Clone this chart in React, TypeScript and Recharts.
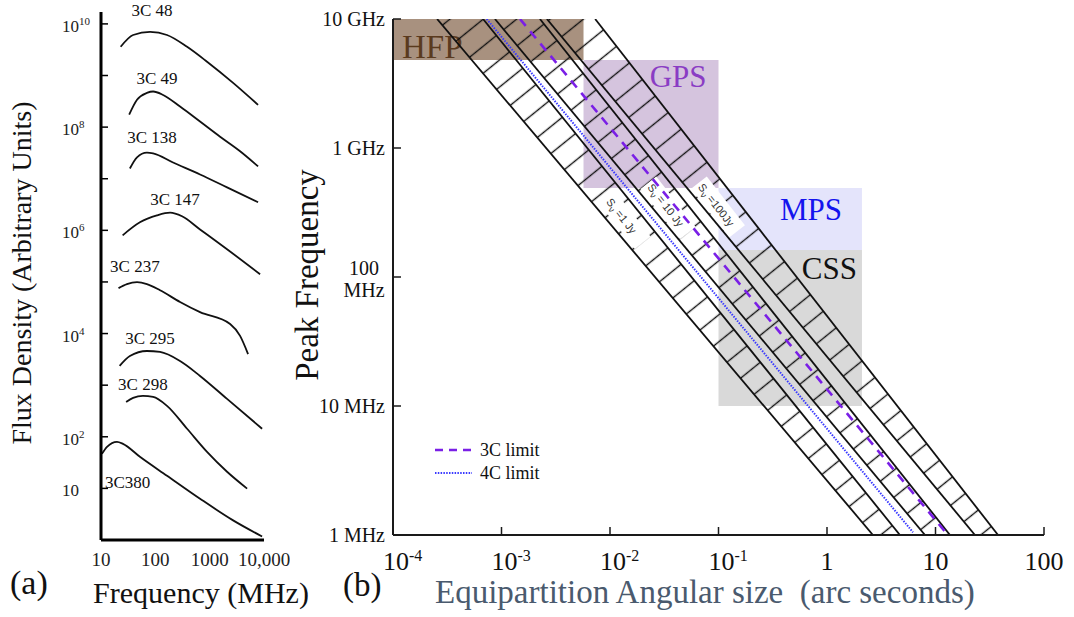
import React from 'react';
import { ComposedChart, Line, Area, XAxis, YAxis, ReferenceArea, ReferenceDot } from 'recharts';

const SERIF = "'Liberation Serif', 'Times New Roman', serif";
const SANS = "'Liberation Sans', Arial, sans-serif";

// ---------- (a) spectra: frequency in MHz, flux density in arbitrary units ----------
const sourceNames = ['3C 48', '3C 49', '3C 138', '3C 147', '3C 237', '3C 295', '3C 298', '3C380'];

const freq3C48 = [23, 39, 80, 164, 384, 895, 2700, 7780];
const flux3C48 = [3.6e9, 6.1e9, 7.0e9, 6.1e9, 3.6e9, 1.85e9, 7.2e8, 2.7e8];
const freq3C49 = [33, 46, 70, 91, 139, 285, 665, 1556, 3631, 7780];
const flux3C49 = [1.75e8, 3.4e8, 4.6e8, 4.9e8, 4.2e8, 2.5e8, 1.28e8, 6.5e7, 3.4e7, 1.73e7];
const freq3C138 = [34, 46, 70, 91, 212, 665, 2090, 7780];
const flux3C138 = [1.58e7, 2.6e7, 3.2e7, 3.1e7, 2.06e7, 1.21e7, 6.8e6, 3.5e6];
const freq3C147 = [25, 52, 107, 187, 310, 665, 2090, 8470];
const flux3C147 = [8.0e5, 1.43e6, 1.95e6, 2.2e6, 1.87e6, 1.04e6, 4.3e5, 1.41e5];
const freq3C237 = [21, 30, 46, 70, 122, 285, 665, 2380, 3630, 5090];
const flux3C237 = [7.6e4, 9.1e4, 9.9e4, 9.1e4, 6.9e4, 4.1e4, 2.6e4, 1.53e4, 9.0e3, 4.0e3];
const freq3C295 = [22, 34, 70, 122, 285, 665, 2090, 9230];
const flux3C295 = [2360, 3670, 4590, 4400, 2940, 1510, 542, 143];
const freq3C298 = [29, 39, 59, 91, 164, 384, 895, 2090, 4890];
const flux3C298 = [474, 568, 620, 593, 397, 143, 51, 21, 9.9];
const freq3C380 = [10.4, 12.9, 19.7, 25.4, 52, 164, 665, 2700, 9230];
const flux3C380 = [46.9, 64, 80, 73, 41, 17.6, 6.3, 2.4, 1.17];

const sourceFreqs = [freq3C48, freq3C49, freq3C138, freq3C147, freq3C237, freq3C295, freq3C298, freq3C380];
const sourceFluxes = [flux3C48, flux3C49, flux3C138, flux3C147, flux3C237, flux3C295, flux3C298, flux3C380];

// where each source name sits
const labelFreq = [87, 107, 87, 231, 42, 80, 59, 31];
const labelFlux = [1.9e10, 9.1e8, 6.5e7, 4.0e6, 2.0e5, 8.2e3, 1.06e3, 13.5];

const fluxTicks = [10, 1e2, 1e3, 1e4, 1e5, 1e6, 1e7, 1e8, 1e9, 1e10];
const freqTicks = [10, 100, 1000, 10000];
const freqTickLabels = ['10', '100', '1000', '10,000'];

// ---------- (b) peak frequency vs equipartition angular size ----------
const nuTop = 1e10;
const nuBottom = 1e6;
// band edges (1 Jy, 10 Jy, 100 Jy bands, two edges each): angular size at 10 GHz and at 1 MHz
const edgeThetaTop = [2.55e-4, 6.76e-4, 8.7e-4, 2.26e-3, 2.62e-3, 7.3e-3];
const edgeThetaBottom = [2.65, 4.7, 8.0, 13.6, 23.1, 37.7];
const bandLabels = ['=1 Jy', '= 10 Jy', '=100Jy'];
const bandLabelTheta = [0.0137, 0.0343, 0.0989];
const bandLabelNu = [2.77e8, 3.43e8, 3.49e8];

const limit3CTheta = [1.48e-3, 13.0];
const limit3CNu = [1e10, 1e6];
const limit4CTheta = [7.3e-4, 6.2];
const limit4CNu = [1e10, 1.05e6];

const regionNames = ['HFP', 'GPS', 'MPS', 'CSS'];
const regionThetaMin = [1e-4, 0.0057, 0.1, 0.1];
const regionThetaMax = [0.0057, 0.1, 2.1, 2.1];
const regionNuMin = [4.8e9, 4.9e8, 1.62e8, 1e7];
const regionNuMax = [1e10, 4.8e9, 4.9e8, 1.62e8];
const regionFill = ['#a8917f', '#d5c4de', '#e4e4fb', '#d9d9d9'];
const regionTextColor = ['#5a3a1e', '#8a3cc4', '#1414ee', '#111111'];

const thetaTicks = [1e-4, 1e-3, 1e-2, 1e-1, 1, 10, 100];
const thetaTickBase = ['10', '10', '10', '10', '1', '10', '100'];
const thetaTickExp = ['-4', '-3', '-2', '-1', '', '', ''];
const nuTicks = [1e6, 1e7, 1e8, 1e9, 1e10];
const nuTickLabels = ['1 MHz', '10 MHz', '100 MHz', '1 GHz', '10 GHz'];

const frame = { stroke: '#1a1a1a', strokeWidth: 2 };
const tickStyle = { stroke: '#1a1a1a', strokeWidth: 1.5 };

const lg = (v: number) => Math.log10(v);

// frequency on a straight edge (in log-log) through (t0, nuTop) and (t1, nuBottom)
function nuOnEdge(t0: number, t1: number, theta: number) {
  const f = (lg(theta) - lg(t0)) / (lg(t1) - lg(t0));
  return Math.pow(10, lg(nuTop) - f * (lg(nuTop) - lg(nuBottom)));
}

function bandPolygon(k: number) {
  const a0 = edgeThetaTop[2 * k];
  const a1 = edgeThetaBottom[2 * k];
  const b0 = edgeThetaTop[2 * k + 1];
  const b1 = edgeThetaBottom[2 * k + 1];
  return [
    { theta: a0, band: [nuTop, nuTop] },
    { theta: b0, band: [nuOnEdge(a0, a1, b0), nuTop] },
    { theta: a1, band: [nuBottom, nuOnEdge(b0, b1, a1)] },
    { theta: b1, band: [nuBottom, nuBottom] },
  ];
}

function FluxTick(props: any) {
  const { x, y, payload } = props;
  const e = Math.round(lg(payload.value));
  if (e !== 1 && e % 2 === 1) return <g />;
  return (
    <text x={x} y={y + 8} textAnchor="start" fontFamily={SERIF} fontSize={17} fill="#222">
      10
      {e > 1 ? (
        <tspan dy={-7} fontSize={11}>
          {e}
        </tspan>
      ) : null}
    </text>
  );
}

function FreqTick(props: any) {
  const { x, y, payload } = props;
  const i = freqTicks.indexOf(payload.value);
  return (
    <text x={x} y={y + 18} textAnchor="middle" fontFamily={SERIF} fontSize={19} fill="#222">
      {freqTickLabels[i]}
    </text>
  );
}

function ThetaTick(props: any) {
  const { x, y, payload } = props;
  const i = thetaTicks.indexOf(payload.value);
  if (thetaTickExp[i]) {
    return (
      <text x={x - 10} y={y + 33} textAnchor="start" fontFamily={SERIF} fontSize={26} fill="#111">
        {thetaTickBase[i]}
        <tspan dy={-9} fontSize={16}>
          {thetaTickExp[i]}
        </tspan>
      </text>
    );
  }
  return (
    <text x={x} y={y + 33} textAnchor="middle" fontFamily={SERIF} fontSize={26} fill="#111">
      {thetaTickBase[i]}
    </text>
  );
}

function NuTick(props: any) {
  const { x, y, payload } = props;
  const i = nuTicks.indexOf(payload.value);
  const label = nuTickLabels[i];
  if (label === '100 MHz') {
    return (
      <text fontFamily={SERIF} fontSize={20} fill="#111" textAnchor="middle">
        <tspan x={x - 21} y={y - 2}>100</tspan>
        <tspan x={x - 21} y={y + 20}>MHz</tspan>
      </text>
    );
  }
  return (
    <text x={x} y={y + 7} textAnchor="end" fontFamily={SERIF} fontSize={20} fill="#111">
      {label}
    </text>
  );
}

const regionLabel = (i: number) => (p: any) => {
  const vb = p.viewBox;
  if (i === 0) {
    return (
      <text x={vb.x + 9} y={vb.y + 39} fontFamily={SERIF} fontSize={33} fill={regionTextColor[i]}>
        {regionNames[i]}
      </text>
    );
  }
  const insetX = [0, 12, 20, 5][i];
  const insetY = [0, 27, 32, 29][i];
  return (
    <text x={vb.x + vb.width - insetX} y={vb.y + insetY} textAnchor="end" fontFamily={SERIF} fontSize={31} fill={regionTextColor[i]}>
      {regionNames[i]}
    </text>
  );
};

const bandLabelShape = (k: number) => (p: any) => {
  const w = [58, 64, 62][k];
  return (
    <g transform={`translate(${p.cx},${p.cy}) rotate(52)`}>
      <rect x={-w / 2} y={-10} width={w} height={20} fill="#ffffff" />
      <text x={-w / 2 + 3} y={4} fontFamily={SANS} fontSize={11} fill="#333">
        S
        <tspan dy={3} fontSize={9}>
          ν
        </tspan>
        <tspan dy={-3}>{' ' + bandLabels[k]}</tspan>
      </text>
    </g>
  );
};

function SpectraPanel() {
  return (
    <ComposedChart width={290} height={617} margin={{ top: 12, right: 26, bottom: 47, left: 41 }}>
      <XAxis
        type="number"
        dataKey="f"
        scale="log"
        domain={[10, 10000]}
        allowDataOverflow
        ticks={freqTicks}
        interval={0}
        height={30}
        axisLine={{ stroke: '#000', strokeWidth: 3 }}
        tickLine={false}
        tick={(p: any) => <FreqTick {...p} />}
      />
      <YAxis
        type="number"
        dataKey="s"
        scale="log"
        domain={[1, 1.7e10]}
        allowDataOverflow
        ticks={fluxTicks}
        interval={0}
        width={60}
        axisLine={{ stroke: '#000', strokeWidth: 3 }}
        tickLine={{ stroke: '#000', strokeWidth: 1.5 }}
        tickSize={-7}
        tickMargin={46}
        tick={(p: any) => <FluxTick {...p} />}
      />
      {sourceNames.map((name, i) => (
        <Line
          key={name}
          data={sourceFreqs[i].map((f, j) => ({ f, s: sourceFluxes[i][j] }))}
          dataKey="s"
          type="monotone"
          stroke="#111"
          strokeWidth={1.8}
          dot={false}
          activeDot={false}
          isAnimationActive={false}
        />
      ))}
      {sourceNames.map((name, i) => (
        <ReferenceDot
          key={'lab' + name}
          x={labelFreq[i]}
          y={labelFlux[i]}
          r={0}
          ifOverflow="visible"
          stroke="none"
          fill="none"
          label={{ value: name, position: 'center', fill: '#111', fontSize: 17, fontFamily: SERIF }}
        />
      ))}
    </ComposedChart>
  );
}

function PeakPanel() {
  const edges = edgeThetaTop.map((t, i) => [
    { theta: t, nu: nuTop },
    { theta: edgeThetaBottom[i], nu: nuBottom },
  ]);
  return (
    <ComposedChart width={784} height={617} margin={{ top: 19, right: 30, bottom: 42, left: 8 }}>
      <defs>
        <pattern id="hatch" width={21} height={21} patternUnits="userSpaceOnUse" patternTransform="rotate(51)">
          <line x1={10.5} y1={0} x2={10.5} y2={21} stroke="#111" strokeWidth={1.4} />
        </pattern>
      </defs>
      <XAxis
        type="number"
        dataKey="theta"
        scale="log"
        domain={[1e-4, 100]}
        allowDataOverflow
        ticks={thetaTicks}
        interval={0}
        height={40}
        axisLine={frame}
        tickLine={tickStyle}
        tickSize={-8}
        tickMargin={10}
        tick={(p: any) => <ThetaTick {...p} />}
      />
      <XAxis
        xAxisId="top"
        orientation="top"
        type="number"
        dataKey="theta"
        scale="log"
        domain={[1e-4, 100]}
        allowDataOverflow
        ticks={thetaTicks}
        interval={0}
        height={0}
        axisLine={frame}
        tickLine={tickStyle}
        tickSize={-9}
        tick={false}
      />
      <YAxis
        type="number"
        scale="log"
        domain={[1e6, 1e10]}
        allowDataOverflow
        ticks={nuTicks}
        interval={0}
        width={95}
        axisLine={frame}
        tickLine={tickStyle}
        tickSize={-8}
        tickMargin={16}
        tick={(p: any) => <NuTick {...p} />}
      />
      <YAxis
        yAxisId="right"
        orientation="right"
        type="number"
        scale="log"
        domain={[1e6, 1e10]}
        allowDataOverflow
        ticks={nuTicks}
        interval={0}
        width={0}
        axisLine={frame}
        tickLine={tickStyle}
        tickSize={-9}
        tick={false}
      />
      {regionNames.map((name, i) => (
        <ReferenceArea
          key={name}
          x1={regionThetaMin[i]}
          x2={regionThetaMax[i]}
          y1={regionNuMin[i]}
          y2={regionNuMax[i]}
          fill={regionFill[i]}
          fillOpacity={1}
          stroke="none"
          ifOverflow="visible"
          zIndex={50}
          label={regionLabel(i)}
        />
      ))}
      {[0, 1, 2].map((k) => (
        <Area
          key={'band' + k}
          data={bandPolygon(k)}
          dataKey="band"
          type="linear"
          stroke="none"
          fill="url(#hatch)"
          fillOpacity={1}
          dot={false}
          activeDot={false}
          isAnimationActive={false}
        />
      ))}
      {bandLabels.map((b, k) => (
        <ReferenceDot
          key={'bl' + k}
          x={bandLabelTheta[k]}
          y={bandLabelNu[k]}
          r={0}
          ifOverflow="visible"
          zIndex={300}
          shape={bandLabelShape(k)}
        />
      ))}
      {edges.map((d, i) => (
        <Line
          key={'edge' + i}
          data={d}
          dataKey="nu"
          type="linear"
          stroke="#111"
          strokeWidth={1.8}
          dot={false}
          activeDot={false}
          isAnimationActive={false}
        />
      ))}
      <Line
        data={limit4CTheta.map((t, j) => ({ theta: t, nu: limit4CNu[j] }))}
        dataKey="nu"
        type="linear"
        stroke="#3a3aff"
        strokeWidth={2}
        strokeDasharray="1.5 1.3"
        dot={false}
        activeDot={false}
        isAnimationActive={false}
      />
      <Line
        data={limit3CTheta.map((t, j) => ({ theta: t, nu: limit3CNu[j] }))}
        dataKey="nu"
        type="linear"
        stroke="#7a1fe6"
        strokeWidth={2.6}
        strokeDasharray="9 7"
        dot={false}
        activeDot={false}
        isAnimationActive={false}
      />
    </ComposedChart>
  );
}

export default function App() {
  return (
    <div style={{ position: 'absolute', left: 0, top: 0, width: 1074, height: 617, background: '#fff', overflow: 'hidden' }}>
      <div style={{ position: 'absolute', left: 0, top: 0 }}>
        <SpectraPanel />
      </div>
      <div style={{ position: 'absolute', left: 290, top: 0 }}>
        <PeakPanel />
      </div>
      <svg width={1074} height={617} style={{ position: 'absolute', left: 0, top: 0, pointerEvents: 'none' }}>
        <text transform="translate(31,273) rotate(-90)" textAnchor="middle" fontFamily={SERIF} fontSize={28} fill="#111">
          Flux Density (Arbitrary Units)
        </text>
        <text x={201} y={603} textAnchor="middle" fontFamily={SERIF} fontSize={30} fill="#111">
          Frequency (MHz)
        </text>
        <text x={10} y={594} fontFamily={SERIF} fontSize={34} fill="#111">
          (a)
        </text>
        <text x={343} y={596} fontFamily={SERIF} fontSize={33} fill="#111">
          (b)
        </text>
        <text transform="translate(318,275) rotate(-90)" textAnchor="middle" fontFamily={SERIF} fontSize={33} fill="#111">
          Peak Frequency
        </text>
        <text x={435} y={603} fontFamily={SERIF} fontSize={33} fill="#4a5a6e" style={{ whiteSpace: 'pre' }}>
          {'Equipartition Angular size  (arc seconds)'}
        </text>
        <line x1={435} y1={450} x2={472} y2={450} stroke="#7a1fe6" strokeWidth={2.6} strokeDasharray="8 6" />
        <text x={480} y={456} fontFamily={SERIF} fontSize={18} fill="#111">
          3C limit
        </text>
        <line x1={435} y1={473} x2={472} y2={473} stroke="#3a3aff" strokeWidth={2} strokeDasharray="1.5 1.3" />
        <text x={480} y={479} fontFamily={SERIF} fontSize={18} fill="#111">
          4C limit
        </text>
      </svg>
    </div>
  );
}
